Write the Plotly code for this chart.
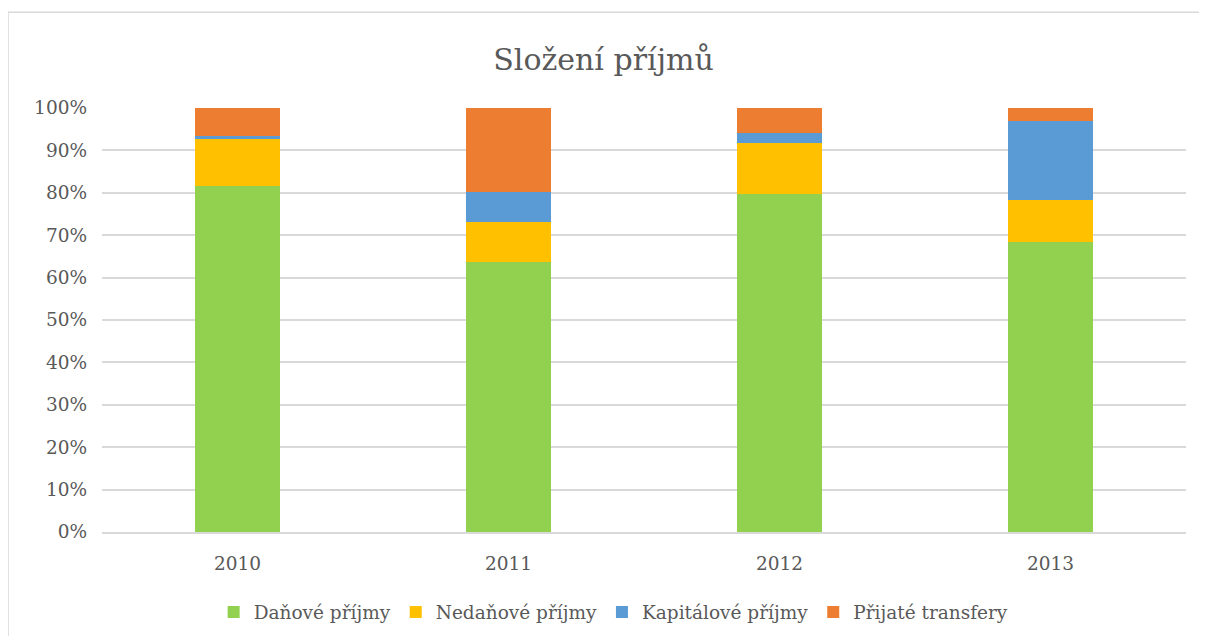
import plotly.graph_objects as go

# Data (percent shares)
roky = ["2010", "2011", "2012", "2013"]
danove = [81.5, 63.7, 79.7, 68.4]
nedanove = [11.4, 9.4, 12.1, 10.0]
kapitalove = [0.4, 7.1, 2.4, 18.6]
transfery = [6.7, 19.8, 5.8, 3.0]

ZEL = "#92D050"; ZLU = "#FFC000"; MOD = "#5B9BD5"; ORA = "#ED7D31"
TX = "#595959"; GD = "#D9D9D9"
FONT = "DejaVu Serif"

fig = go.Figure()
for name, vals, col in [("Daňové příjmy", danove, ZEL),
                        ("Nedaňové příjmy", nedanove, ZLU),
                        ("Kapitálové příjmy", kapitalove, MOD),
                        ("Přijaté transfery", transfery, ORA)]:
    fig.add_trace(go.Bar(name=name, x=roky, y=vals, marker_color=col,
                         marker_line_width=0))

# page body has an 8px margin, so the figure is sized / offset for it
fig.update_layout(
    barmode="stack", barnorm="percent", bargap=0.686,
    width=1191, height=628,
    paper_bgcolor="white", plot_bgcolor="white",
    font=dict(family=FONT, color=TX, size=18),
    margin=dict(l=94, r=13, t=100, b=104, autoexpand=False),
    title=dict(text="Složení příjmů", x=0.5, xanchor="center",
               y=0.918, yanchor="middle",
               font=dict(size=30, color=TX, family=FONT)),
    legend=dict(orientation="h", x=0.472, xanchor="center",
                y=-0.19, yanchor="middle",
                font=dict(size=18.5, color=TX, family=FONT), itemwidth=30,
                traceorder="normal"),
    showlegend=True,
)
fig.update_yaxes(range=[0, 100], dtick=10, ticksuffix="%",
                 gridcolor=GD, gridwidth=1.5, zeroline=False,
                 ticklabelstandoff=14, tickfont=dict(size=18.5, color=TX, family=FONT))
fig.update_xaxes(showline=True, linecolor=GD, linewidth=1.5,
                 ticklabelstandoff=14, tickfont=dict(size=18.5, color=TX, family=FONT))

# outer chart border
fig.add_shape(type="rect", xref="paper", yref="paper",
              x0=-0.0867, x1=1.05, y0=-0.35, y1=1.226,
              line=dict(color=GD, width=1.5), layer="below")

fig.write_html("out.html")
